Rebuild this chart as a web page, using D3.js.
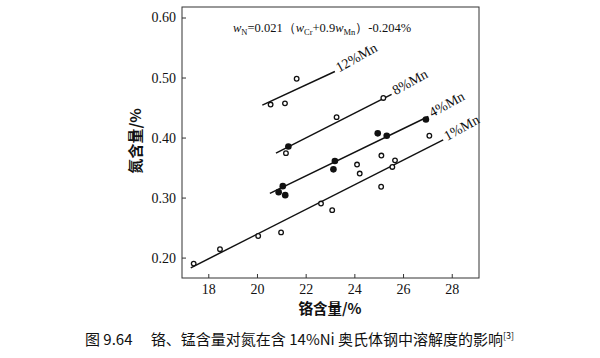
<!DOCTYPE html>
<html lang="zh">
<head>
  <meta charset="UTF-8" />
  <title>铬、锰含量对氮溶解度的影响</title>
  <script src="https://d3js.org/d3.v7.min.js"></script>
  <style>
    body { margin: 0; background: #fff; }
    svg text { fill: #111; }
    .serif { font-family: "Liberation Serif", "DejaVu Serif", serif; }
    .cjk { font-family: "Noto Sans CJK SC", sans-serif; }
  </style>
</head>
<body>
  <svg id="chart" width="600" height="358"></svg>

  <script>
    // ticks
    const xTicks = [18, 20, 22, 24, 26, 28];
    const yTicks = [0.20, 0.30, 0.40, 0.50, 0.60];

    // fitted lines for each Mn content (Cr %, N %)
    const lineNames = ["12%Mn", "8%Mn", "4%Mn", "1%Mn"];
    const lineCr0 = [20.22, 20.78, 20.53, 17.28];
    const lineN0  = [0.454, 0.374, 0.307, 0.183];
    const lineCr1 = [23.20, 25.53, 27.04, 27.65];
    const lineN1  = [0.510, 0.472, 0.435, 0.396];

    // measured points, open circles
    const openCr = [21.63, 20.56, 21.15, 23.27, 25.19, 21.19, 27.08, 24.11, 24.22, 25.11,
                    25.67, 25.56, 25.10, 22.63, 23.09, 20.05, 20.99, 18.48, 17.40];
    const openN  = [0.498, 0.455, 0.457, 0.434, 0.466, 0.374, 0.403, 0.355, 0.340, 0.370,
                    0.362, 0.351, 0.318, 0.290, 0.279, 0.236, 0.242, 0.214, 0.190];

    // measured points, filled circles
    const fillCr = [21.29, 24.96, 25.33, 26.94, 23.20, 23.14, 21.06, 20.89, 21.16];
    const fillN  = [0.385, 0.407, 0.403, 0.430, 0.361, 0.347, 0.319, 0.309, 0.304];

    const plotL = 182, plotR = 479, plotT = 7, plotB = 278;

    const svg = d3.select("#chart");

    const x = d3.scaleLinear().domain([16.92, 29.12]).range([plotL, plotR]);
    const y = d3.scaleLinear().domain([0.166, 0.6175]).range([plotB, plotT]);

    // frame
    svg.append("rect")
      .attr("x", plotL).attr("y", plotT)
      .attr("width", plotR - plotL).attr("height", plotB - plotT)
      .attr("fill", "none").attr("stroke", "#333").attr("stroke-width", 1);

    // axes with inward ticks
    const xAxis = svg.append("g")
      .attr("transform", `translate(0,${plotB})`)
      .call(d3.axisBottom(x).tickValues(xTicks).tickSize(-4).tickPadding(6).tickFormat(d3.format("d")));
    const yAxis = svg.append("g")
      .attr("transform", `translate(${plotL},0)`)
      .call(d3.axisLeft(y).tickValues(yTicks).tickSize(-4).tickPadding(6).tickFormat(d3.format(".2f")));

    [xAxis, yAxis].forEach(g => {
      g.select(".domain").remove();
      g.selectAll("line").attr("stroke", "#333");
      g.selectAll("text")
        .attr("class", "serif")
        .style("font-size", "14px")
        .attr("fill", "#111");
    });

    // fitted lines
    const lines = lineNames.map((name, i) => ({
      name, x0: lineCr0[i], y0: lineN0[i], x1: lineCr1[i], y1: lineN1[i]
    }));

    svg.append("g").selectAll("line")
      .data(lines)
      .enter().append("line")
      .attr("x1", d => x(d.x0)).attr("y1", d => y(d.y0))
      .attr("x2", d => x(d.x1)).attr("y2", d => y(d.y1))
      .attr("stroke", "#111")
      .attr("stroke-width", 1.5);

    svg.append("g").selectAll("text")
      .data(lines)
      .enter().append("text")
      .attr("class", "serif")
      .attr("transform", d => `translate(${x(d.x1) + 4},${y(d.y1) + 1}) rotate(-29)`)
      .style("font-size", "14px")
      .text(d => d.name);

    // points
    svg.append("g").selectAll("circle")
      .data(d3.zip(openCr, openN))
      .enter().append("circle")
      .attr("cx", d => x(d[0]))
      .attr("cy", d => y(d[1]))
      .attr("r", 2.3)
      .attr("fill", "#fff")
      .attr("stroke", "#111")
      .attr("stroke-width", 1.3);

    svg.append("g").selectAll("circle")
      .data(d3.zip(fillCr, fillN))
      .enter().append("circle")
      .attr("cx", d => x(d[0]))
      .attr("cy", d => y(d[1]))
      .attr("r", 3.3)
      .attr("fill", "#111");

    // formula
    const f = svg.append("text")
      .attr("class", "serif")
      .attr("x", 233).attr("y", 32)
      .style("font-size", "12.5px");
    f.append("tspan").style("font-style", "italic").text("w");
    f.append("tspan").attr("dy", 3).style("font-size", "8.5px").text("N");
    f.append("tspan").attr("dy", -3).text("=0.021（");
    f.append("tspan").style("font-style", "italic").text("w");
    f.append("tspan").attr("dy", 3).style("font-size", "8.5px").text("Cr");
    f.append("tspan").attr("dy", -3).text("+0.9");
    f.append("tspan").style("font-style", "italic").text("w");
    f.append("tspan").attr("dy", 3).style("font-size", "8.5px").text("Mn");
    f.append("tspan").attr("dy", -3).text("）-0.204%");

    // axis titles
    svg.append("text")
      .attr("class", "cjk")
      .attr("x", 330).attr("y", 314)
      .attr("text-anchor", "middle")
      .style("font-size", "14.5px")
      .style("font-weight", "bold")
      .text("铬含量/%");

    svg.append("text")
      .attr("class", "cjk")
      .attr("transform", "translate(141,141) rotate(-90)")
      .attr("text-anchor", "middle")
      .style("font-size", "15px")
      .style("font-weight", "bold")
      .text("氮含量/%");

    // caption
    const cap = svg.append("text")
      .attr("class", "cjk")
      .attr("x", 85).attr("y", 345)
      .style("font-size", "15px");
    cap.append("tspan").text("图 9.64　 铬、锰含量对氮在含 14%Ni 奥氏体钢中溶解度的影响");
    cap.append("tspan").attr("dy", -6).style("font-size", "9px").text("[3]");
  </script>
</body>
</html>
